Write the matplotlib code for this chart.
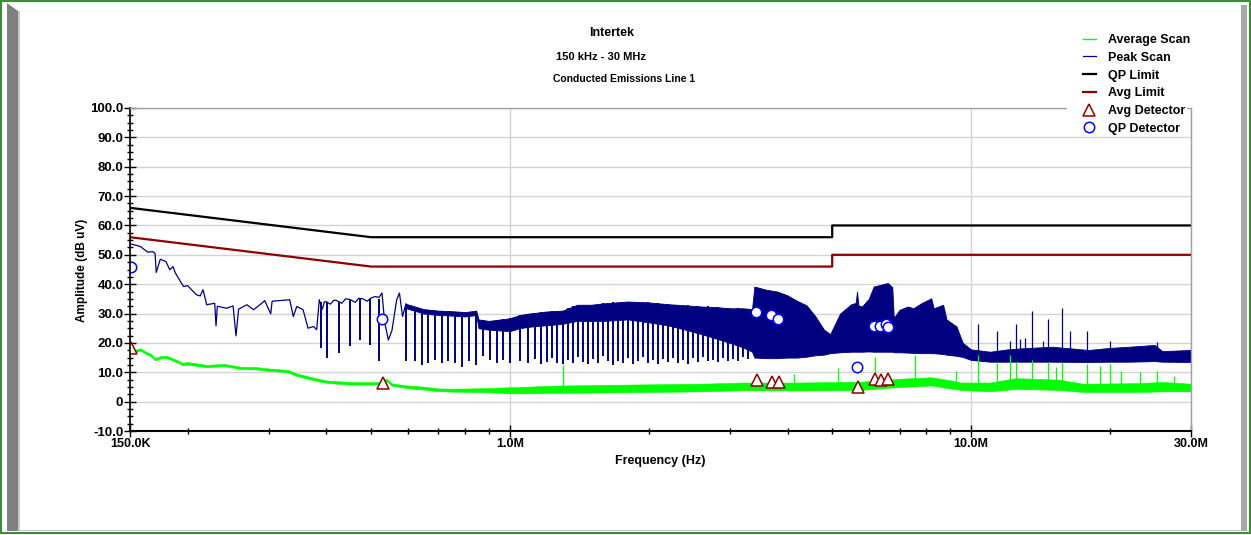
import matplotlib
matplotlib.use("Agg")
import matplotlib.pyplot as plt
from matplotlib.lines import Line2D
from matplotlib.patches import Rectangle, Polygon

# ---- data (frequencies in MHz, levels in dB uV) ----
limit_mhz = [0.15, 0.5, 5.0, 5.0, 30.0]
qp_limit = [66, 56, 56, 60, 60]
avg_limit = [56, 46, 46, 50, 50]

# peak scan, low band trace
peak_mhz = [0.1505, 0.155, 0.158, 0.164, 0.168, 0.170, 0.171, 0.1745, 0.1795, 0.183,
            0.186, 0.188, 0.193, 0.196, 0.200, 0.204, 0.209, 0.213, 0.216, 0.220,
            0.229, 0.2305, 0.232, 0.243, 0.251, 0.2547, 0.258, 0.269, 0.278, 0.287,
            0.294, 0.3029, 0.305, 0.333, 0.339, 0.345, 0.356, 0.365, 0.375, 0.381,
            0.386, 0.392, 0.396, 0.400, 0.408, 0.415, 0.420, 0.432, 0.440, 0.450,
            0.462, 0.470, 0.480, 0.490, 0.500, 0.510, 0.520, 0.528, 0.535, 0.545,
            0.555, 0.568, 0.576, 0.585, 0.595]
peak_db = [53.7, 53.2, 52.8, 50.9, 51.1, 50.5, 44.0, 48.5, 47.7, 44.9,
           46.0, 43.9, 40.9, 39.2, 39.5, 38.1, 36.4, 36.0, 38.1, 33.0,
           33.5, 25.8, 32.5, 31.8, 32.6, 22.4, 31.5, 33.0, 31.3, 33.0,
           34.4, 29.9, 34.2, 34.7, 29.0, 32.4, 31.3, 25.0, 25.6, 24.5,
           34.7, 31.5, 34.0, 34.0, 33.2, 34.5, 34.5, 33.5, 35.0, 34.8,
           33.8, 35.2, 35.0, 34.2, 35.3, 35.8, 35.5, 37.0, 27.0, 21.0,
           24.3, 34.6, 37.0, 29.0, 33.3]

# peak scan, dense part: lower and upper edge of the band
band_mhz = [0.595, 0.62, 0.65, 0.70, 0.75, 0.80, 0.845, 0.855, 0.90, 1.0,
            1.05, 1.1, 1.2, 1.3, 1.4, 1.5, 1.6, 1.8, 2.0, 2.2,
            2.4, 2.6, 2.8, 3.0, 3.2, 3.35, 3.39, 3.6, 3.8, 4.0,
            4.2, 4.4, 4.6, 4.8, 4.95, 5.2, 5.5, 5.62, 5.66, 5.70,
            5.8, 6.0, 6.15, 6.6, 6.75, 6.8, 7.0, 7.3, 7.5, 7.8,
            8.2, 8.3, 8.7, 8.85, 9.3, 9.6, 10.0, 11.0, 12.0, 13.0,
            15.0, 18.0, 20.0, 22.0, 25.0, 26.0, 30.0]
band_lo = [31.8, 31.0, 30.0, 29.5, 29.3, 29.0, 29.5, 25.0, 24.5, 24.0,
           25.0, 25.5, 26.0, 26.5, 27.5, 27.5, 27.5, 28.0, 27.0, 26.0,
           24.5, 23.0, 21.5, 20.0, 18.5, 17.0, 15.0, 14.8, 14.8, 15.0,
           15.0, 15.3, 15.8, 16.0, 16.5, 16.8, 17.0, 17.0, 17.0, 17.0,
           17.0, 17.1, 17.0, 17.0, 17.0, 16.8, 16.8, 16.7, 16.6, 16.5,
           16.5, 16.5, 16.2, 16.0, 15.6, 15.2, 14.2, 13.6, 13.6, 13.6,
           13.6, 13.5, 13.6, 13.6, 13.8, 13.6, 13.5]
band_hi = [33.3, 32.5, 31.5, 31.0, 30.8, 30.5, 31.0, 28.0, 27.5, 28.4,
           29.5, 30.0, 30.7, 31.0, 33.0, 33.0, 33.5, 34.1, 33.8, 33.2,
           32.8, 32.4, 32.2, 31.8, 31.8, 31.5, 39.2, 38.1, 37.5, 36.2,
           34.3, 32.8, 29.0, 24.5, 23.0, 30.0, 33.2, 33.6, 37.5, 32.8,
           32.4, 35.0, 39.2, 40.4, 39.0, 28.5, 31.3, 32.4, 31.8, 33.5,
           35.2, 31.8, 33.0, 28.0, 25.6, 20.0, 17.8, 17.0, 17.8, 18.2,
           18.7, 17.6, 18.3, 18.7, 19.3, 17.2, 17.6]

# peak scan notches (bottom and top of each drop)
dip_mhz = [0.389, 0.401, 0.425, 0.450, 0.473, 0.497, 0.520, 0.5955, 0.623, 0.644,
           0.6655, 0.688, 0.712, 0.7356, 0.7605, 0.789, 0.817, 0.8445, 0.873, 0.906,
           0.936, 0.968, 1.001, 1.052, 1.097, 1.134, 1.168, 1.204, 1.234, 1.266,
           1.305, 1.337, 1.371, 1.406, 1.441, 1.478, 1.515, 1.553, 1.593, 1.633,
           1.674, 1.717, 1.760, 1.805, 1.851, 1.897, 1.945, 1.994, 2.045, 2.097,
           2.150, 2.204, 2.260, 2.317, 2.376, 2.435, 2.497, 2.560, 2.625, 2.691,
           2.759, 2.829, 2.900, 2.973, 3.048, 3.126, 3.204, 3.285]
dip_lo = [18.2, 14.8, 16.5, 18.8, 21.0, 19.3, 14.0, 13.7, 13.7, 12.5,
          13.3, 14.2, 13.1, 13.7, 13.1, 11.7, 13.7, 12.5, 15.4, 14.2,
          13.1, 14.2, 13.1, 13.7, 13.1, 14.5, 12.8, 13.6, 15.0, 13.2,
          12.9, 14.1, 13.0, 15.2, 13.5, 12.7, 14.4, 13.1, 15.5, 13.8,
          12.6, 14.0, 13.3, 14.8, 12.9, 13.7, 15.1, 13.0, 14.3, 12.8,
          14.6, 13.4, 15.0, 13.2, 14.1, 12.9, 14.7, 13.5, 15.3, 13.9,
          14.2, 13.6, 15.0, 14.0, 14.4, 13.8, 15.2, 14.6]
dip_hi = [34.0, 34.0, 34.0, 34.5, 35.0, 35.0, 35.0, 33.0, 32.0, 31.5,
          31.0, 31.0, 30.8, 30.8, 30.6, 30.5, 30.5, 30.8, 27.8, 27.5,
          27.8, 28.0, 28.4, 29.5, 29.8, 30.2, 30.4, 30.6, 30.8, 30.9,
          31.0, 31.8, 32.5, 33.0, 32.6, 33.0, 32.8, 33.3, 33.5, 33.2,
          33.8, 33.6, 34.0, 34.1, 33.7, 34.0, 33.6, 33.8, 33.4, 33.6,
          33.0, 33.2, 32.6, 33.0, 32.5, 32.8, 32.2, 32.6, 32.0, 32.4,
          31.8, 32.2, 31.6, 31.9, 31.4, 31.8, 31.3, 31.6]

# peak scan spikes above the high band floor
pk_spike_mhz = [10.33, 11.41, 12.16, 12.52, 12.75, 13.1, 13.59, 14.3, 14.68, 15.74,
                16.41, 17.87, 20.04, 25.35]
pk_spike_db = [26.3, 24.0, 20.7, 26.3, 21.4, 21.7, 30.8, 20.5, 28.1, 31.9,
               24.0, 24.2, 20.7, 20.3]

# average scan band
avg_mhz = [0.1505, 0.155, 0.158, 0.162, 0.166, 0.170, 0.175, 0.18, 0.19, 0.195,
           0.20, 0.22, 0.24, 0.26, 0.28, 0.30, 0.33, 0.345, 0.37, 0.40,
           0.45, 0.50, 0.525, 0.54, 0.555, 0.60, 0.65, 0.70, 0.75, 0.90,
           1.0, 1.3, 1.8, 2.6, 3.2, 4.2, 5.8, 7.0, 8.2, 9.0,
           9.5, 11.0, 12.5, 15.5, 17.5, 23.0, 26.0, 30.0]
avg_lo = [16.6, 17.0, 17.4, 16.3, 15.6, 14.1, 14.7, 14.9, 13.3, 12.4,
          12.6, 11.7, 12.1, 11.1, 11.0, 10.5, 10.0, 8.7, 7.5, 6.4,
          5.8, 5.8, 5.9, 6.9, 5.4, 4.6, 4.1, 3.6, 3.4, 3.2,
          2.8, 3.0, 3.2, 3.5, 3.9, 3.8, 4.0, 5.0, 5.5, 4.5,
          4.0, 3.5, 4.3, 4.0, 3.3, 3.3, 3.5, 3.5]
avg_hi = [17.5, 17.8, 18.2, 17.1, 16.4, 14.9, 15.5, 15.7, 14.1, 13.2,
          13.5, 12.5, 12.9, 11.9, 11.8, 11.3, 10.8, 9.6, 8.4, 7.2,
          6.7, 6.6, 6.7, 7.8, 6.2, 5.5, 5.1, 4.5, 4.4, 4.6,
          4.9, 5.5, 5.8, 6.1, 6.5, 6.5, 6.8, 7.8, 8.3, 7.3,
          6.5, 6.5, 8.0, 7.5, 6.1, 6.3, 6.7, 6.1]
avg_spike_mhz = [1.306, 4.13, 5.15, 6.20, 7.57, 9.29, 10.33, 11.41, 12.16, 12.52,
                 13.59, 14.68, 15.30, 15.74, 17.87, 19.04, 20.04, 21.18, 23.28, 25.35,
                 27.59]
avg_spike_db = [12.5, 9.5, 11.4, 15.2, 15.9, 10.6, 17.0, 13.0, 16.5, 13.5,
                14.1, 13.5, 11.8, 13.5, 12.9, 12.3, 12.9, 10.6, 10.0, 10.6,
                8.6]

# detector readings
qp_det_mhz = [0.151, 0.528, 3.42, 3.68, 3.82, 5.66, 6.17, 6.35, 6.53, 6.60]
qp_det_db = [45.7, 28.3, 30.4, 29.5, 28.0, 11.7, 25.8, 25.9, 26.4, 25.4]
avg_det_mhz = [0.151, 0.531, 3.44, 3.70, 3.84, 5.69, 6.19, 6.38, 6.60]
avg_det_db = [18.2, 6.5, 7.2, 6.8, 6.8, 5.1, 7.7, 7.2, 7.7]

xtick_mhz = [0.15, 1.0, 10.0, 30.0]
xtick_labels = ["150.0K", "1.0M", "10.0M", "30.0M"]
xminor_mhz = [0.2, 0.3, 0.4, 0.5, 0.6, 0.7, 0.8, 0.9,
              2, 3, 4, 5, 6, 7, 8, 9, 20]
ytick_db = [-10, 0, 10, 20, 30, 40, 50, 60, 70, 80, 90, 100]
ytick_labels = ["-10.0", "0", "10.0", "20.0", "30.0", "40.0", "50.0",
                "60.0", "70.0", "80.0", "90.0", "100.0"]

GREEN = "#00ff00"
NAVY = "#000080"
DARKRED = "#8b0000"

plt.rcParams['font.family'] = ['Liberation Sans', 'DejaVu Sans']

W, H = 1251, 535


def fx(x):
    return x / W


def fy(y):
    return 1 - y / H


fig = plt.figure(figsize=(12.51, 5.35), dpi=100)
ax = fig.add_axes([fx(130), fy(431), fx(1191) - fx(130), fy(108) - fy(431)])
ax.set_xscale('log')

# traces
ax.fill_between(avg_mhz, avg_lo, avg_hi, color=GREEN, lw=0.4)
ax.vlines(avg_spike_mhz, 5.0, avg_spike_db, color=GREEN, lw=0.9)

ax.plot(peak_mhz, peak_db, color=NAVY, lw=0.9)
ax.fill_between(band_mhz, band_lo, band_hi, color=NAVY, lw=0.6)
ax.vlines(dip_mhz, dip_lo, dip_hi, color=NAVY, lw=1.4)
ax.vlines(pk_spike_mhz, 16.0, pk_spike_db, color=NAVY, lw=0.9)

ax.plot(limit_mhz, qp_limit, color='black', lw=1.6)
ax.plot(limit_mhz, avg_limit, color=DARKRED, lw=1.6)

ax.plot(avg_det_mhz, avg_det_db, ls='none', marker='^', ms=9,
        mfc='white', mec=DARKRED, mew=1.1)
ax.plot(qp_det_mhz, qp_det_db, ls='none', marker='o', ms=7.5,
        mfc='white', mec='blue', mew=1.1)

# axes
ax.set_xlim(0.15, 30)
ax.set_ylim(-10, 100)
ax.set_xticks(xtick_mhz, xtick_labels, fontweight='bold', fontsize=9)
ax.set_xticks(xminor_mhz, [""] * len(xminor_mhz), minor=True)
ax.set_yticks(ytick_db, ytick_labels, fontweight='bold', fontsize=9.5)
ax.set_yticks([v + 2.5 * k for v in ytick_db[:-1] for k in (1, 2, 3)], minor=True)
ax.tick_params(which='major', direction='inout', length=8, width=1, pad=0.8)
ax.tick_params(which='minor', direction='inout', length=5, width=1)
ax.grid(True, which='major', color='#d3d3d3', lw=1)
ax.set_axisbelow(True)
for side in ('top', 'right'):
    ax.spines[side].set_color('#a0a0a0')
    ax.spines[side].set_linewidth(1)
ax.spines['left'].set_linewidth(1.2)
ax.spines['bottom'].set_linewidth(1.5)

fig.text(fx(660), fy(461), "Frequency (Hz)", ha='center', va='center',
         fontweight='bold', fontsize=9)
fig.text(fx(82), fy(270), "Amplitude (dB uV)", ha='center', va='center',
         rotation=90, fontweight='bold', fontsize=8.5)

fig.text(fx(612), fy(33), "Intertek", ha='center', va='center',
         fontweight='bold', fontsize=9)
fig.text(fx(601), fy(57), "150 kHz - 30 MHz", ha='center', va='center',
         fontweight='bold', fontsize=8)
fig.text(fx(624), fy(79), "Conducted Emissions Line 1", ha='center', va='center',
         fontweight='bold', fontsize=7.5)

# legend over the top right corner
fig.add_artist(Rectangle((fx(1067), fy(134)), fx(1187) - fx(1067), fy(20) - fy(134),
                         transform=fig.transFigure, facecolor='white',
                         edgecolor='none', zorder=3))
handles = [
    Line2D([], [], color=GREEN, lw=1),
    Line2D([], [], color=NAVY, lw=0.9),
    Line2D([], [], color='black', lw=1.6),
    Line2D([], [], color=DARKRED, lw=1.6),
    Line2D([], [], ls='none', marker='^', ms=9, mfc='white', mec=DARKRED, mew=1.1),
    Line2D([], [], ls='none', marker='o', ms=7.5, mfc='white', mec='blue', mew=1.1),
]
labels = ["Average Scan", "Peak Scan", "QP Limit", "Avg Limit",
          "Avg Detector", "QP Detector"]
fig.legend(handles, labels, loc='upper left', bbox_to_anchor=(fx(1083), fy(34)),
           frameon=False, prop={'weight': 'bold', 'size': 9}, numpoints=1,
           handlelength=1.0, handletextpad=1.0, labelspacing=0.46,
           borderpad=0, borderaxespad=0)

# window frame
fig.add_artist(Rectangle((fx(1), fy(533)), fx(1249), fy(1) - fy(533),
                         transform=fig.transFigure, fill=False,
                         edgecolor='#3c8c3c', lw=1.5, zorder=6))
fig.add_artist(Polygon([(fx(7), fy(3)), (fx(18), fy(11)), (fx(18), fy(531)), (fx(7), fy(531))],
                       closed=True, transform=fig.transFigure,
                       facecolor='#808080', edgecolor='none', zorder=6))
fig.add_artist(Rectangle((fx(18), fy(531)), fx(1.5), fy(11) - fy(531),
                         transform=fig.transFigure, facecolor='#c8c8c8',
                         edgecolor='none', zorder=6))
fig.add_artist(Rectangle((fx(1241), fy(531)), fx(6), fy(5) - fy(531),
                         transform=fig.transFigure, facecolor='#a8a8a8',
                         edgecolor='none', zorder=6))
fig.add_artist(Rectangle((fx(18), fy(531)), fx(1223), fx(1.5) * W / H,
                         transform=fig.transFigure, facecolor='#c8c8c8',
                         edgecolor='none', zorder=6))

fig.savefig("out.png", dpi=100)
